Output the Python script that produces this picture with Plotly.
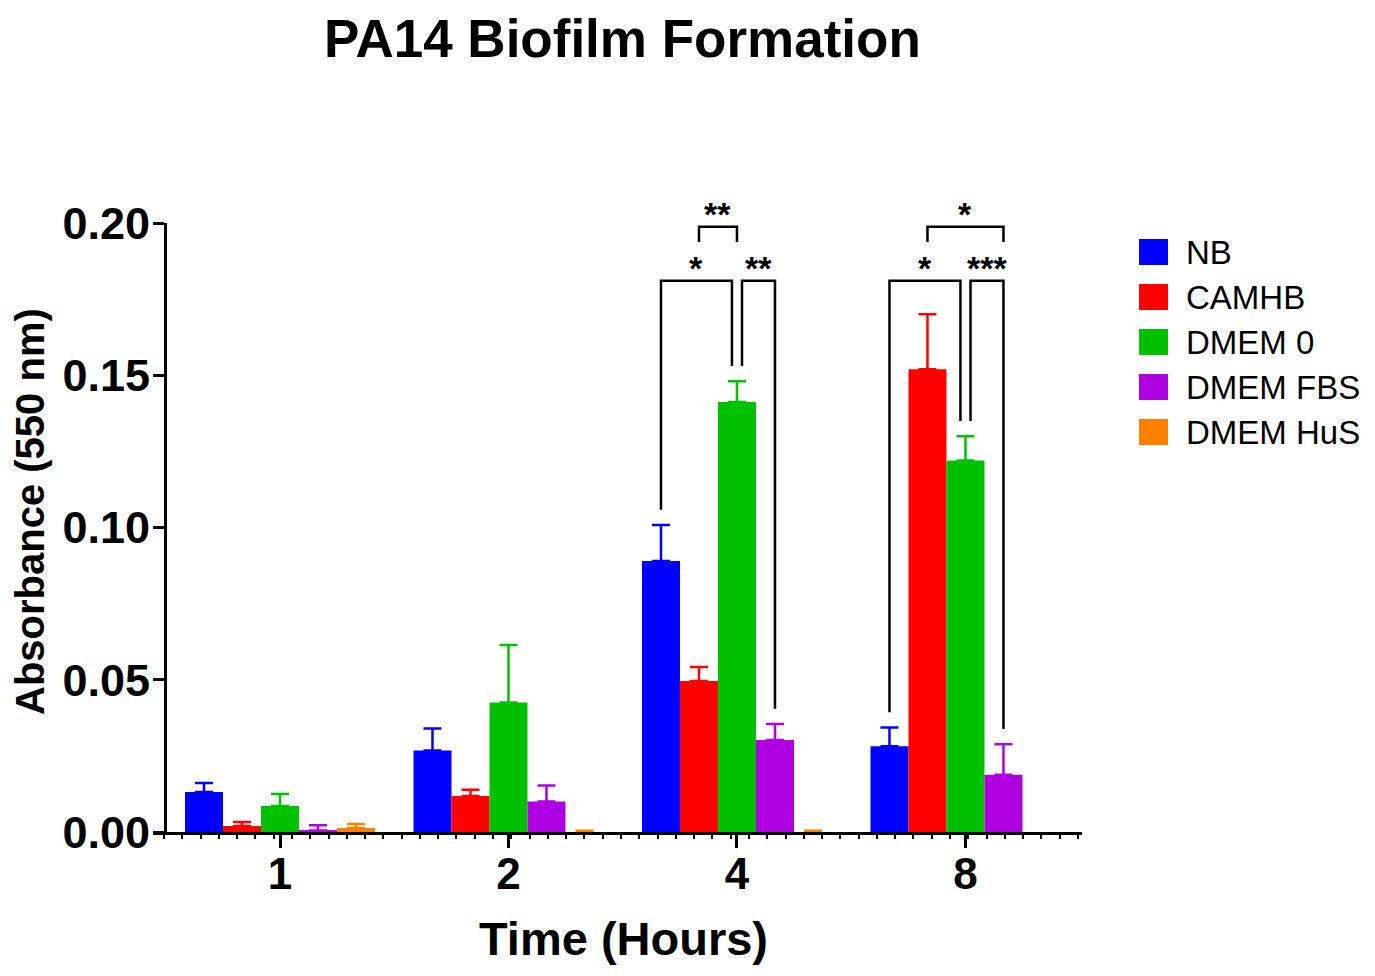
import plotly.graph_objects as go

# data
times = ["1", "2", "4", "8"]
series = ["NB", "CAMHB", "DMEM 0", "DMEM FBS", "DMEM HuS"]
colors = ["#0000FF", "#FF0000", "#00C000", "#AE00E0", "#FF8000"]

nb = [0.0131, 0.0268, 0.0890, 0.0282]
camhb = [0.0020, 0.0118, 0.0496, 0.1520]
dmem0 = [0.0085, 0.0425, 0.1412, 0.1220]
dmem_fbs = [0.0005, 0.0100, 0.0302, 0.0188]
dmem_hus = [0.0013, 0.0000, 0.0000, None]

nb_err = [0.0030, 0.0072, 0.0118, 0.0061]
camhb_err = [0.0013, 0.0021, 0.0046, 0.0180]
dmem0_err = [0.0040, 0.0189, 0.0068, 0.0080]
dmem_fbs_err = [0.0017, 0.0053, 0.0053, 0.0100]
dmem_hus_err = [0.0013, 0.0004, 0.0004, None]

means = [nb, camhb, dmem0, dmem_fbs, dmem_hus]
errs = [nb_err, camhb_err, dmem0_err, dmem_fbs_err, dmem_hus_err]

# (time index, series a, series b, level, label)
comparisons = [
    (2, 0, 2, 1, "*"),
    (2, 2, 3, 1, "**"),
    (2, 1, 2, 2, "**"),
    (3, 0, 2, 1, "*"),
    (3, 2, 3, 1, "***"),
    (3, 1, 3, 2, "*"),
]

FONT = "Liberation Sans, Arial, sans-serif"
YMAX = 0.2
BARGAP = 0.1685
BW = (1 - BARGAP) / len(series)
LEVEL_Y = {1: 0.181, 2: 0.1988}
NUDGE = 0.022
PLOT_W, PLOT_H = 929, 609

xs = list(range(len(times)))

fig = go.Figure()
for name, col, m, e in zip(series, colors, means, errs):
    fig.add_trace(go.Bar(
        x=xs, y=m, name=name, marker_color=col, marker_line_width=0,
        showlegend=False,
        error_y=dict(type="data", symmetric=False, array=e,
                     arrayminus=[0] * len(e), color=col, thickness=2.5, width=9),
    ))


def bar_x(ti, si):
    return ti + (si - 2) * BW


def err_top(ti, si):
    v = means[si][ti] or 0
    return v + (errs[si][ti] or 0)


def page_y(py):
    # screen pixel row -> paper fraction of the plot area
    return (832 - py) / PLOT_H


def page_x(px):
    return (px - 153) / PLOT_W


shapes = []
annots = []
line = dict(color="black", width=2.5)
for ti, a, b, lvl, lab in comparisons:
    xa, xb = bar_x(ti, a), bar_x(ti, b)
    # pull inner legs apart where two brackets meet on one bar
    for t2, a2, b2, l2, _ in comparisons:
        if t2 == ti and l2 == lvl == 1:
            if b == a2 and (a2, b2) != (a, b):
                xb -= NUDGE
            if a == b2 and (a2, b2) != (a, b):
                xa += NUDGE
    top = LEVEL_Y[lvl]
    if lvl == 1:
        ya, yb = err_top(ti, a) + 0.005, err_top(ti, b) + 0.005
    else:
        ya = yb = top - 0.005
    shapes.append(dict(type="path", xref="x", yref="paper",
                       path=f"M {xa},{ya / YMAX} L {xa},{top / YMAX} L {xb},{top / YMAX} L {xb},{yb / YMAX}",
                       line=line))
    annots.append(dict(x=(xa + xb) / 2, y=top, xref="x", yref="y", text=f"<b>{lab}</b>",
                       showarrow=False, yanchor="bottom", yshift=-8,
                       font=dict(family=FONT, size=34, color="black")))

# legend drawn by hand to get the large square swatches
for k, (name, col) in enumerate(zip(series, colors)):
    yc = page_y(252 + 45 * k)
    shapes.append(dict(type="rect", xref="paper", yref="paper",
                       x0=page_x(1139), x1=page_x(1168),
                       y0=yc - 13 / PLOT_H, y1=yc + 13 / PLOT_H,
                       fillcolor=col, line_width=0))
    annots.append(dict(x=page_x(1184), y=yc, xref="paper", yref="paper",
                       text=name, showarrow=False, xanchor="left", yanchor="middle",
                       font=dict(family=FONT, size=33, color="black")))

# titles as annotations so they sit where the original puts them
annots.append(dict(x=page_x(30), y=page_y(512), xref="paper", yref="paper",
                   text="<b>Absorbance (550 nm)</b>", textangle=-90, showarrow=False,
                   xanchor="center", yanchor="middle",
                   font=dict(family=FONT, size=40, color="black")))
annots.append(dict(x=page_x(623), y=page_y(938), xref="paper", yref="paper",
                   text="<b>Time (Hours)</b>", showarrow=False,
                   xanchor="center", yanchor="middle",
                   font=dict(family=FONT, size=47, color="black")))
annots.append(dict(x=page_x(622), y=page_y(38), xref="paper", yref="paper",
                   text="<b>PA14 Biofilm Formation</b>", showarrow=False,
                   xanchor="center", yanchor="middle",
                   font=dict(family=FONT, size=53, color="black")))

# page has an 8px body margin, so margins are trimmed by 8
fig.update_layout(
    width=1375, height=976,
    margin=dict(l=145, r=301, t=215, b=152),
    plot_bgcolor="white", paper_bgcolor="white",
    barmode="group", bargap=BARGAP, bargroupgap=0,
    xaxis=dict(range=[-0.5558, 3.51], tickvals=xs, ticktext=[f"<b>{t}</b>" for t in times],
               showline=True, linecolor="black", linewidth=3,
               ticks="outside", ticklen=13, tickwidth=3, tickcolor="black",
               showgrid=False, zeroline=False, automargin=False,
               ticklabelstandoff=-12,
               tickfont=dict(family=FONT, size=44, color="black"),
               minor=dict(ticks="outside", ticklen=4, tickwidth=2, tickcolor="black",
                          dtick=0.08, tick0=-0.4276, showgrid=False)),
    yaxis=dict(range=[0, YMAX], tickvals=[0, 0.05, 0.10, 0.15, 0.20],
               ticktext=["<b>0.00</b>", "<b>0.05</b>", "<b>0.10</b>", "<b>0.15</b>", "<b>0.20</b>"],
               anchor="free", position=12 / PLOT_W,
               showline=True, linecolor="black", linewidth=3,
               ticks="outside", ticklen=11, tickwidth=3, tickcolor="black",
               showgrid=False, zeroline=False, automargin=False,
               ticklabelstandoff=-6,
               tickfont=dict(family=FONT, size=45, color="black")),
    shapes=shapes, annotations=annots,
)

fig.write_html("out.html")
